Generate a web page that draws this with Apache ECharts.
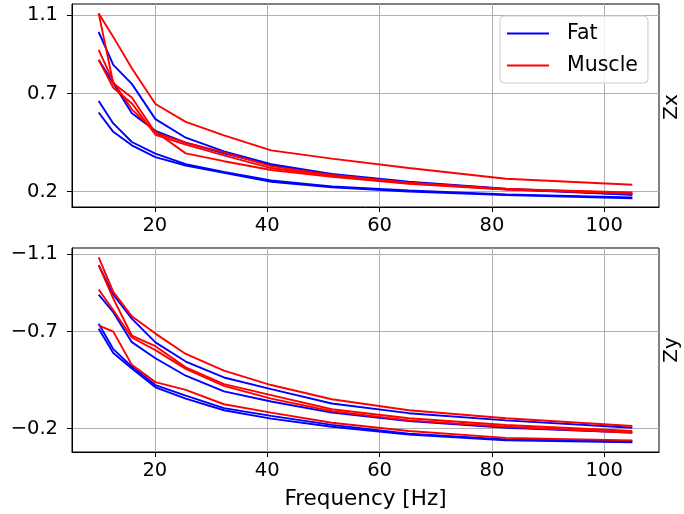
<!DOCTYPE html>
<html>
<head>
<meta charset="utf-8">
<script src="https://cdn.jsdelivr.net/npm/echarts@6/dist/echarts.min.js"></script>
<style>
  html, body { margin: 0; padding: 0; background: #ffffff; }
  #chart { width: 684px; height: 514px; }
</style>
</head>
<body>
<div id="chart"></div>
<script>
// Measurement frequencies (Hz)
const freqs = [10, 12.6, 15.9, 20.1, 25.5, 32.3, 40.7, 51.5, 65.2, 82.5, 105];

// Zx responses
const fatZx1 = [1.015, 0.847, 0.75, 0.57, 0.475, 0.405, 0.34, 0.29, 0.25, 0.215, 0.185];
const fatZx2 = [0.873, 0.753, 0.60, 0.51, 0.45, 0.395, 0.335, 0.285, 0.245, 0.212, 0.183];
const fatZx3 = [0.662, 0.548, 0.453, 0.394, 0.34, 0.30, 0.257, 0.226, 0.205, 0.185, 0.17];
const fatZx4 = [0.604, 0.505, 0.436, 0.376, 0.333, 0.295, 0.25, 0.222, 0.20, 0.182, 0.166];
const muscleZx1 = [1.11, 0.99, 0.83, 0.647, 0.556, 0.487, 0.41, 0.368, 0.32, 0.265, 0.235];
const muscleZx2 = [1.11, 0.753, 0.68, 0.50, 0.45, 0.40, 0.33, 0.285, 0.245, 0.213, 0.195];
const muscleZx3 = [0.924, 0.76, 0.62, 0.505, 0.395, 0.355, 0.31, 0.275, 0.24, 0.21, 0.19];
const muscleZx4 = [0.873, 0.73, 0.65, 0.49, 0.44, 0.385, 0.32, 0.28, 0.242, 0.212, 0.193];

// Zy responses
const fatZy1 = [-1.043, -0.89, -0.767, -0.645, -0.546, -0.464, -0.404, -0.33, -0.28, -0.243, -0.205];
const fatZy2 = [-0.891, -0.80, -0.646, -0.563, -0.473, -0.392, -0.34, -0.283, -0.24, -0.205, -0.18];
const fatZy3 = [-0.741, -0.61, -0.52, -0.425, -0.37, -0.306, -0.266, -0.22, -0.174, -0.145, -0.135];
const fatZy4 = [-0.715, -0.59, -0.51, -0.413, -0.355, -0.295, -0.252, -0.21, -0.17, -0.14, -0.13];
const muscleZy1 = [-1.083, -0.905, -0.779, -0.69, -0.585, -0.499, -0.425, -0.352, -0.295, -0.254, -0.214];
const muscleZy2 = [-1.043, -0.87, -0.68, -0.625, -0.516, -0.43, -0.373, -0.30, -0.254, -0.219, -0.188];
const muscleZy3 = [-0.917, -0.81, -0.67, -0.605, -0.508, -0.421, -0.355, -0.29, -0.243, -0.21, -0.179];
const muscleZy4 = [-0.732, -0.70, -0.529, -0.44, -0.40, -0.326, -0.283, -0.231, -0.188, -0.153, -0.14];

// Tick positions
const xTicks = [20, 40, 60, 80, 100];
const zxTicks = [0.2, 0.7, 1.1];
const zyTicks = [-1.1, -0.7, -0.2];

const FONT = 'DejaVu Sans';
const BLUE = '#0000ff';
const RED = '#ff0000';
const TICK_FONT = 19.5;

function pairs(values) {
  return freqs.map((f, i) => [f, values[i]]);
}

function fmt(v) {
  return String(v).replace('-', '\u2212');
}

function xAxisCfg(gridIndex, title) {
  return {
    type: 'value', gridIndex: gridIndex, min: 5.25, max: 109.75,
    axisLine: { show: true, lineStyle: { color: '#000', width: 1 } },
    axisTick: { show: true, inside: false, length: 5, customValues: xTicks, lineStyle: { color: '#000', width: 1 } },
    axisLabel: { customValues: xTicks, color: '#000', fontSize: TICK_FONT, fontFamily: FONT, margin: 8.5, formatter: fmt },
    splitLine: { show: true, lineStyle: { color: '#b0b0b0', width: 1 } },
    name: title, nameLocation: 'middle', nameGap: 36,
    nameTextStyle: { color: '#000', fontSize: 21.5, fontFamily: FONT }
  };
}

function yAxisCfg(gridIndex, ticks, min, max, inverse) {
  return {
    type: 'value', gridIndex: gridIndex, min: min, max: max, inverse: inverse,
    axisLine: { show: true, lineStyle: { color: '#000', width: 1 } },
    axisTick: { show: true, inside: false, length: 5, customValues: ticks, lineStyle: { color: '#000', width: 1 } },
    axisLabel: { customValues: ticks, color: '#000', fontSize: TICK_FONT, fontFamily: FONT, margin: 14, formatter: fmt },
    splitLine: { show: true, lineStyle: { color: '#b0b0b0', width: 1 } }
  };
}

function line(name, values, color, axisIdx) {
  return {
    type: 'line', name: name, data: pairs(values),
    xAxisIndex: axisIdx, yAxisIndex: axisIdx,
    symbol: 'none', silent: true,
    lineStyle: { color: color, width: 1.9 },
    itemStyle: { color: color }
  };
}

const series = [
  line('Fat', fatZx1, BLUE, 0), line('Muscle', muscleZx1, RED, 0),
  line('Fat', fatZx2, BLUE, 0), line('Muscle', muscleZx2, RED, 0),
  line('Fat', fatZx3, BLUE, 0), line('Muscle', muscleZx3, RED, 0),
  line('Fat', fatZx4, BLUE, 0), line('Muscle', muscleZx4, RED, 0),
  line('Fat', fatZy1, BLUE, 1), line('Muscle', muscleZy1, RED, 1),
  line('Fat', fatZy2, BLUE, 1), line('Muscle', muscleZy2, RED, 1),
  line('Fat', fatZy3, BLUE, 1), line('Muscle', muscleZy3, RED, 1),
  line('Fat', fatZy4, BLUE, 1), line('Muscle', muscleZy4, RED, 1)
];

const chart = echarts.init(document.getElementById('chart'));
chart.setOption({
  animation: false,
  backgroundColor: '#ffffff',
  grid: [
    { left: 72, top: 4, width: 587, height: 203, show: true, borderColor: '#000', borderWidth: 1, backgroundColor: 'transparent' },
    { left: 72, top: 248, width: 587, height: 204, show: true, borderColor: '#000', borderWidth: 1, backgroundColor: 'transparent' }
  ],
  xAxis: [xAxisCfg(0, ''), xAxisCfg(1, 'Frequency [Hz]')],
  yAxis: [
    yAxisCfg(0, zxTicks, 0.121, 1.158, false),
    yAxisCfg(1, zyTicks, -1.131, -0.08, true)
  ],
  legend: {
    data: ['Fat', 'Muscle'],
    orient: 'vertical',
    left: 500, top: 16,
    padding: [7, 10, 7, 7],
    itemGap: 11,
    itemWidth: 42, itemHeight: 2,
    icon: 'rect',
    backgroundColor: 'rgba(255,255,255,0.8)',
    borderColor: '#cccccc', borderWidth: 1, borderRadius: 4,
    textStyle: { color: '#000', fontSize: 20.5, fontFamily: FONT, padding: [0, 0, 0, 13] }
  },
  graphic: [
    { type: 'text', x: 672, y: 107, rotation: Math.PI / 2,
      style: { text: 'Zx', fill: '#000', font: '20px "DejaVu Sans"', textAlign: 'center', textVerticalAlign: 'middle' } },
    { type: 'text', x: 672, y: 350, rotation: Math.PI / 2,
      style: { text: 'Zy', fill: '#000', font: '20px "DejaVu Sans"', textAlign: 'center', textVerticalAlign: 'middle' } }
  ],
  series: series
});
</script>
</body>
</html>
